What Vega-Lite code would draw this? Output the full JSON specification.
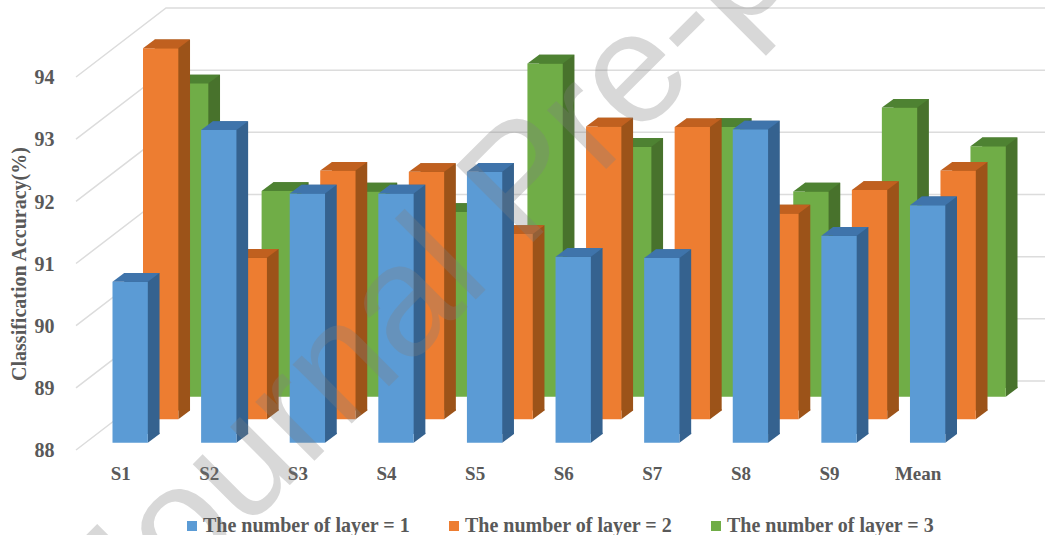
{
  "$schema": "https://vega.github.io/schema/vega-lite/v6.json",
  "width": 1045,
  "height": 535,
  "padding": 0,
  "autosize": {"type": "none"},
  "background": "#ffffff",
  "config": {"view": {"stroke": null}},
  "datasets": {
    "accuracy": [
      {"subject": "S1", "layers": "The number of layer = 1", "acc": 90.59},
      {"subject": "S2", "layers": "The number of layer = 1", "acc": 93.03},
      {"subject": "S3", "layers": "The number of layer = 1", "acc": 92.01},
      {"subject": "S4", "layers": "The number of layer = 1", "acc": 92.01},
      {"subject": "S5", "layers": "The number of layer = 1", "acc": 92.36},
      {"subject": "S6", "layers": "The number of layer = 1", "acc": 90.99},
      {"subject": "S7", "layers": "The number of layer = 1", "acc": 90.97},
      {"subject": "S8", "layers": "The number of layer = 1", "acc": 93.04},
      {"subject": "S9", "layers": "The number of layer = 1", "acc": 91.33},
      {"subject": "Mean", "layers": "The number of layer = 1", "acc": 91.82},
      {"subject": "S1", "layers": "The number of layer = 2", "acc": 93.97},
      {"subject": "S2", "layers": "The number of layer = 2", "acc": 90.6},
      {"subject": "S3", "layers": "The number of layer = 2", "acc": 92.0},
      {"subject": "S4", "layers": "The number of layer = 2", "acc": 91.98},
      {"subject": "S5", "layers": "The number of layer = 2", "acc": 90.98},
      {"subject": "S6", "layers": "The number of layer = 2", "acc": 92.71},
      {"subject": "S7", "layers": "The number of layer = 2", "acc": 92.7},
      {"subject": "S8", "layers": "The number of layer = 2", "acc": 91.31},
      {"subject": "S9", "layers": "The number of layer = 2", "acc": 91.69},
      {"subject": "Mean", "layers": "The number of layer = 2", "acc": 92.0},
      {"subject": "S1", "layers": "The number of layer = 3", "acc": 93.04},
      {"subject": "S2", "layers": "The number of layer = 3", "acc": 91.31},
      {"subject": "S3", "layers": "The number of layer = 3", "acc": 91.3},
      {"subject": "S4", "layers": "The number of layer = 3", "acc": 90.97},
      {"subject": "S5", "layers": "The number of layer = 3", "acc": 93.36},
      {"subject": "S6", "layers": "The number of layer = 3", "acc": 92.02},
      {"subject": "S7", "layers": "The number of layer = 3", "acc": 92.34},
      {"subject": "S8", "layers": "The number of layer = 3", "acc": 91.3},
      {"subject": "S9", "layers": "The number of layer = 3", "acc": 92.65},
      {"subject": "Mean", "layers": "The number of layer = 3", "acc": 92.03}
    ]
  },
  "data": {"name": "accuracy"},
  "encoding": {
    "x": {
      "field": "subject",
      "type": "nominal",
      "sort": null,
      "scale": {
        "domain": ["S1", "S2", "S3", "S4", "S5", "S6", "S7", "S8", "S9", "Mean"],
        "range": [112.5, 945.3],
        "paddingInner": 0.6013,
        "paddingOuter": 0
      },
      "axis": {
        "title": null,
        "orient": "bottom",
        "offset": -62,
        "domain": false,
        "ticks": false,
        "grid": false,
        "labelAngle": 0,
        "labelBaseline": "middle",
        "labelPadding": 0,
        "labelOffset": -9.5,
        "labelFont": "Liberation Serif",
        "labelFontWeight": "bold",
        "labelFontSize": 19,
        "labelColor": "#595959"
      }
    },
    "y": {
      "field": "acc",
      "type": "quantitative",
      "scale": {"domain": [86.515, 95.121], "nice": false, "zero": false},
      "axis": {
        "title": "Classification Accuracy(%)",
        "orient": "left",
        "offset": -54,
        "values": [88, 89, 90, 91, 92, 93, 94],
        "domain": false,
        "ticks": false,
        "grid": false,
        "labelPadding": 0,
        "labelOffset": 8,
        "labelFont": "Liberation Serif",
        "labelFontWeight": "bold",
        "labelFontSize": 20,
        "labelColor": "#595959",
        "titleFont": "Liberation Serif",
        "titleFontWeight": "bold",
        "titleFontSize": 20,
        "titleColor": "#595959",
        "titlePadding": 5,
        "titleY": 263.5
      }
    }
  },
  "layer": [
    {
      "data": {"values": [{"tick": 88}, {"tick": 89}, {"tick": 90}, {"tick": 91}, {"tick": 92}, {"tick": 93}, {"tick": 94}]},
      "mark": {
        "type": "point",
        "shape": "M-54.15,69L35.85,0L920,0",
        "size": 4,
        "filled": false,
        "opacity": 1,
        "color": "#dcdcdc",
        "strokeWidth": 1.5,
        "yOffset": -61.7
      },
      "encoding": {
        "x": {"datum": "S1", "type": "nominal"},
        "y": {"field": "tick", "type": "quantitative"}
      }
    },
    {
      "transform": [{"filter": "datum.layers === 'The number of layer = 3'"}],
      "layer": [
        {
          "mark": {"type": "bar", "color": "#48722c", "xOffset": 72.2, "yOffset": -54.7, "y2Offset": -54.7},
          "encoding": {"y2": {"datum": 88}}
        },
        {
          "mark": {"type": "point", "shape": "M17.65,0L29.35,-8.7L29.35,-10L17.65,-10Z", "size": 4, "filled": true, "opacity": 1, "color": "#48722c", "xOffset": 60.5, "yOffset": -46},
          "encoding": {"y": {"datum": 88, "type": "quantitative"}}
        },
        {
          "mark": {"type": "bar", "xOffset": 60.5, "yOffset": -46, "y2Offset": -46},
          "encoding": {
            "y2": {"datum": 88},
            "color": {"field": "layers", "type": "nominal"}
          }
        },
        {
          "mark": {"type": "point", "shape": "M-17.65,0L-5.95,-8.7L29.35,-8.7L17.65,0Z", "size": 4, "filled": true, "opacity": 1, "color": "#4e8232", "xOffset": 60.5, "yOffset": -46}
        }
      ]
    },
    {
      "transform": [{"filter": "datum.layers === 'The number of layer = 2'"}],
      "layer": [
        {
          "mark": {"type": "bar", "color": "#9c5319", "xOffset": 42.2, "yOffset": -32.1, "y2Offset": -32.1},
          "encoding": {"y2": {"datum": 88}}
        },
        {
          "mark": {"type": "point", "shape": "M17.65,0L29.35,-8.7L29.35,-10L17.65,-10Z", "size": 4, "filled": true, "opacity": 1, "color": "#9c5319", "xOffset": 30.5, "yOffset": -23.4},
          "encoding": {"y": {"datum": 88, "type": "quantitative"}}
        },
        {
          "mark": {"type": "bar", "xOffset": 30.5, "yOffset": -23.4, "y2Offset": -23.4},
          "encoding": {
            "y2": {"datum": 88},
            "color": {"field": "layers", "type": "nominal"}
          }
        },
        {
          "mark": {"type": "point", "shape": "M-17.65,0L-5.95,-8.7L29.35,-8.7L17.65,0Z", "size": 4, "filled": true, "opacity": 1, "color": "#c0601f", "xOffset": 30.5, "yOffset": -23.4}
        }
      ]
    },
    {
      "transform": [{"filter": "datum.layers === 'The number of layer = 1'"}],
      "layer": [
        {
          "mark": {"type": "bar", "color": "#35628f", "xOffset": 11.7, "yOffset": -8.7, "y2Offset": -8.7},
          "encoding": {"y2": {"datum": 88}}
        },
        {
          "mark": {"type": "point", "shape": "M17.65,0L29.35,-8.7L29.35,-10L17.65,-10Z", "size": 4, "filled": true, "opacity": 1, "color": "#35628f"},
          "encoding": {"y": {"datum": 88, "type": "quantitative"}}
        },
        {
          "mark": {"type": "bar"},
          "encoding": {
            "y2": {"datum": 88},
            "color": {
              "field": "layers",
              "type": "nominal",
              "scale": {
                "domain": ["The number of layer = 1", "The number of layer = 2", "The number of layer = 3"],
                "range": ["#5b9bd5", "#ed7d31", "#70ad47"]
              },
              "legend": {
                "title": null,
                "orient": "none",
                "legendX": 182,
                "legendY": 516,
                "direction": "horizontal",
                "columns": 3,
                "symbolType": "square",
                "symbolSize": 100,
                "symbolStrokeWidth": 0,
                "labelFont": "Liberation Serif",
                "labelFontWeight": "bold",
                "labelFontSize": 20,
                "labelOffset": 1,
                "labelColor": "#595959",
                "labelLimit": 300,
                "columnPadding": 33
              }
            }
          }
        },
        {
          "mark": {"type": "point", "shape": "M-17.65,0L-5.95,-8.7L29.35,-8.7L17.65,0Z", "size": 4, "filled": true, "opacity": 1, "color": "#3f74ab"}
        }
      ]
    },
    {
      "data": {"values": [{"subject": "S6", "acc": 91.63, "stamp": "Journal Pre-proof"}]},
      "mark": {
        "type": "text",
        "font": "Liberation Sans",
        "fontSize": 158,
        "angle": 315,
        "align": "center",
        "baseline": "alphabetic",
        "fill": "#808080",
        "opacity": 0.3,
        "xOffset": -15
      },
      "encoding": {
        "text": {"field": "stamp", "type": "nominal"}
      }
    }
  ]
}
